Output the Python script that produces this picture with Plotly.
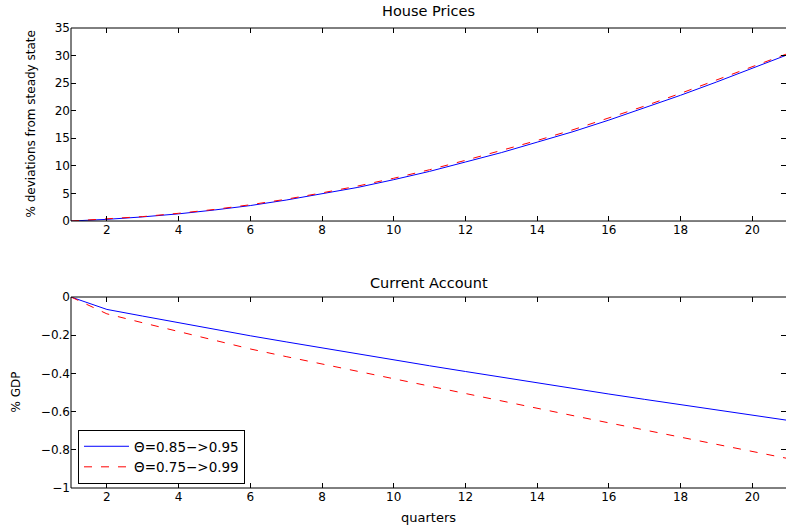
import plotly.graph_objects as go
from plotly.subplots import make_subplots

quarters = list(range(1, 22))

house_a = [0, 0.3, 0.75, 1.3, 2.0, 2.8, 3.8, 4.9, 6.1, 7.5, 9.0, 10.7, 12.4, 14.3,
           16.2, 18.3, 20.5, 22.8, 25.2, 27.7, 30.2]
house_b = [0, 0.35, 0.8, 1.4, 2.1, 2.95, 3.95, 5.1, 6.35, 7.75, 9.3, 11.0, 12.75, 14.6,
           16.55, 18.65, 20.85, 23.15, 25.55, 28.0, 30.4]

ca_a = [0, -0.065, -0.10, -0.135, -0.169, -0.203, -0.235, -0.267, -0.298, -0.329, -0.36,
        -0.39, -0.42, -0.45, -0.479, -0.508, -0.536, -0.564, -0.592, -0.619, -0.646]
ca_b = [0, -0.088, -0.135, -0.181, -0.227, -0.272, -0.312, -0.351, -0.39, -0.429, -0.467,
        -0.506, -0.545, -0.583, -0.621, -0.659, -0.697, -0.735, -0.772, -0.809, -0.846]

name_a = "Θ=0.85−>0.95"
name_b = "Θ=0.75−>0.99"

x_ticks = [2, 4, 6, 8, 10, 12, 14, 16, 18, 20]
y1_ticks = [0, 5, 10, 15, 20, 25, 30, 35]
y2_ticks = [-1, -0.8, -0.6, -0.4, -0.2, 0]
y2_labels = ["−1", "−0.8", "−0.6", "−0.4", "−0.2", "0"]

FONT = "DejaVu Sans, Liberation Sans, Arial, sans-serif"
W, H = 786, 525
ML, MT, MB = 71, 28, 37

fig = make_subplots(rows=2, cols=1, vertical_spacing=0.0)

blue = dict(color="#0000ff", width=1)
red = dict(color="#ff0000", width=1, dash="8px,9px")

fig.add_trace(go.Scatter(x=quarters, y=house_a, mode="lines", line=blue, name=name_a,
                         showlegend=False), row=1, col=1)
fig.add_trace(go.Scatter(x=quarters, y=house_b, mode="lines", line=red, name=name_b,
                         showlegend=False), row=1, col=1)
fig.add_trace(go.Scatter(x=quarters, y=ca_a, mode="lines", line=blue, name=name_a),
              row=2, col=1)
fig.add_trace(go.Scatter(x=quarters, y=ca_b, mode="lines", line=red, name=name_b),
              row=2, col=1)

axis_common = dict(showline=False, mirror="ticks", ticks="inside", ticklen=5,
                   tickcolor="black", tickwidth=1, showgrid=False, zeroline=False,
                   automargin=False,
                   tickfont=dict(size=12, color="black", family=FONT))

fig.update_xaxes(range=[1, 20.94], tickvals=x_ticks, domain=[0, 1], **axis_common)
fig.update_yaxes(**axis_common)

fig.update_yaxes(range=[0, 35], tickvals=y1_ticks, domain=[0.5804, 1.0], row=1, col=1)
fig.update_yaxes(range=[-1, 0], tickvals=y2_ticks, ticktext=y2_labels, domain=[0, 0.4152],
                 row=2, col=1)
fig.update_xaxes(title=dict(text="quarters", font=dict(size=13, family=FONT, color="black")),
                 row=2, col=1)

# spines (left, top, bottom) for both panels
for xr, yr in [("x domain", "y domain"), ("x2 domain", "y2 domain")]:
    for (x0, y0, x1, y1) in [(0, 0, 0, 1), (0, 1, 1, 1), (0, 0, 1, 0)]:
        fig.add_shape(type="line", xref=xr, yref=yr, x0=x0, y0=y0, x1=x1, y1=y1,
                      line=dict(color="black", width=1))

fig.add_annotation(text="House Prices", xref="paper", yref="paper", x=0.5, y=1.0,
                   yshift=7, xanchor="center", yanchor="bottom", showarrow=False,
                   font=dict(size=14.5, family=FONT, color="black"))
fig.add_annotation(text="Current Account", xref="paper", yref="paper", x=0.5, y=0.4152,
                   yshift=4, xanchor="center", yanchor="bottom", showarrow=False,
                   font=dict(size=14.5, family=FONT, color="black"))

# y-axis titles as rotated annotations (pixel-placed relative to plot left edge)
fig.add_annotation(text="% deviations from steady state", xref="paper", yref="y domain",
                   x=0, xshift=31 - ML, y=0.5, textangle=-90, showarrow=False,
                   xanchor="center", yanchor="middle",
                   font=dict(size=12, family=FONT, color="black"))
fig.add_annotation(text="% GDP", xref="paper", yref="y2 domain",
                   x=0, xshift=16 - ML, y=0.5, textangle=-90, showarrow=False,
                   xanchor="center", yanchor="middle",
                   font=dict(size=12, family=FONT, color="black"))

fig.update_layout(
    template="none",
    width=W, height=H,
    margin=dict(l=ML, r=0, t=MT, b=MB, autoexpand=False),
    paper_bgcolor="white", plot_bgcolor="white",
    font=dict(family=FONT, size=12, color="black"),
    legend=dict(x=0.0098, y=0.0087, xanchor="left", yanchor="bottom",
                bordercolor="black", borderwidth=1, bgcolor="white",
                font=dict(size=13.5, family=FONT, color="black"),
                tracegroupgap=0, itemwidth=45),
)

fig.write_html("out.html", post_script="document.body.style.margin='0';",
               config={"displayModeBar": False})
